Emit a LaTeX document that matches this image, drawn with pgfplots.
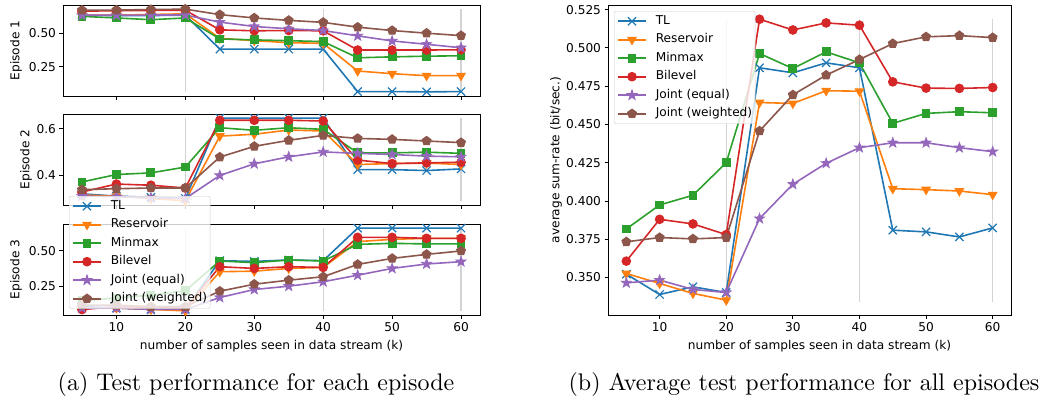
\documentclass[border=0pt]{standalone}
\usepackage{fontspec}
\usepackage{pgfplots}
\usepackage{pgfplotstable}
\pgfplotsset{compat=1.18}
\usetikzlibrary{plotmarks}
\newfontfamily\dv{DejaVu Sans}
\definecolor{tabblue}{HTML}{1F77B4}
\definecolor{taborange}{HTML}{FF7F0E}
\definecolor{tabgreen}{HTML}{2CA02C}
\definecolor{tabred}{HTML}{D62728}
\definecolor{tabpurple}{HTML}{9467BD}
\definecolor{tabbrown}{HTML}{8C564B}
\definecolor{vgray}{HTML}{D3D3D3}
\definecolor{legframe}{HTML}{CCCCCC}

\pgfdeclareplotmark{fstar}{%
  \pgfpathmoveto{\pgfpointpolar{90}{\pgfplotmarksize}}%
  \pgfpathlineto{\pgfpointpolar{126}{0.4\pgfplotmarksize}}%
  \pgfpathlineto{\pgfpointpolar{162}{\pgfplotmarksize}}%
  \pgfpathlineto{\pgfpointpolar{198}{0.4\pgfplotmarksize}}%
  \pgfpathlineto{\pgfpointpolar{234}{\pgfplotmarksize}}%
  \pgfpathlineto{\pgfpointpolar{270}{0.4\pgfplotmarksize}}%
  \pgfpathlineto{\pgfpointpolar{306}{\pgfplotmarksize}}%
  \pgfpathlineto{\pgfpointpolar{342}{0.4\pgfplotmarksize}}%
  \pgfpathlineto{\pgfpointpolar{18}{\pgfplotmarksize}}%
  \pgfpathlineto{\pgfpointpolar{54}{0.4\pgfplotmarksize}}%
  \pgfpathclose
  \pgfusepathqfillstroke
}

\pgfplotstableread{
x TL Res Min Bil Je Jw
5  0.635 0.635 0.626 0.665 0.634 0.672
10 0.632 0.635 0.614 0.668 0.634 0.673
15 0.632 0.640 0.601 0.670 0.636 0.677
20 0.635 0.645 0.614 0.672 0.636 0.680
25 0.381 0.462 0.457 0.525 0.583 0.639
30 0.381 0.444 0.450 0.518 0.550 0.614
35 0.381 0.429 0.444 0.520 0.533 0.596
40 0.381 0.424 0.437 0.518 0.520 0.581
45 0.063 0.217 0.316 0.374 0.480 0.545
50 0.063 0.197 0.323 0.374 0.442 0.520
55 0.061 0.182 0.328 0.374 0.417 0.500
60 0.063 0.182 0.331 0.376 0.391 0.482
}\epone

\pgfplotstableread{
x TL Res Min Bil Je Jw
5  0.320 0.315 0.371 0.328 0.310 0.338
10 0.310 0.310 0.403 0.362 0.308 0.342
15 0.305 0.300 0.410 0.357 0.303 0.345
20 0.300 0.290 0.435 0.345 0.300 0.345
25 0.645 0.568 0.604 0.636 0.399 0.478
30 0.645 0.576 0.593 0.636 0.449 0.524
35 0.645 0.594 0.604 0.636 0.479 0.550
40 0.645 0.590 0.597 0.633 0.500 0.571
45 0.424 0.446 0.496 0.465 0.494 0.558
50 0.424 0.450 0.496 0.450 0.489 0.554
55 0.420 0.452 0.499 0.453 0.482 0.547
60 0.427 0.446 0.494 0.456 0.479 0.540
}\eptwo

\pgfplotstableread{
x TL Res Min Bil Je Jw
5  0.110 0.100 0.150 0.089 0.100 0.120
10 0.100 0.100 0.170 0.110 0.100 0.120
15 0.090 0.090 0.190 0.105 0.090 0.110
20 0.090 0.080 0.220 0.100 0.090 0.110
25 0.430 0.353 0.428 0.388 0.173 0.217
30 0.425 0.357 0.416 0.376 0.229 0.266
35 0.435 0.376 0.435 0.388 0.252 0.294
40 0.430 0.383 0.428 0.383 0.283 0.318
45 0.657 0.563 0.544 0.593 0.329 0.404
50 0.657 0.579 0.551 0.593 0.376 0.446
55 0.657 0.586 0.547 0.586 0.407 0.474
60 0.657 0.586 0.547 0.586 0.423 0.498
}\epthree

\pgfplotstableread{
x TL Res Min Bil Je Jw
5  0.3522 0.3526 0.3817 0.3607 0.3465 0.3733
10 0.3389 0.3461 0.3974 0.3880 0.3483 0.3761
15 0.3439 0.3396 0.4037 0.3850 0.3422 0.3752
20 0.3402 0.3352 0.4250 0.3780 0.3402 0.3761
25 0.4870 0.4643 0.4963 0.5187 0.3885 0.4457
30 0.4837 0.4637 0.4865 0.5117 0.4109 0.4693
35 0.4902 0.4720 0.4974 0.5163 0.4246 0.4822
40 0.4870 0.4717 0.4902 0.5148 0.4348 0.4924
45 0.3809 0.4080 0.4507 0.4778 0.4380 0.5028
50 0.3798 0.4074 0.4572 0.4737 0.4380 0.5072
55 0.3765 0.4065 0.4583 0.4735 0.4348 0.5080
60 0.3824 0.4041 0.4576 0.4741 0.4322 0.5067
}\avg

\pgfplotsset{
  sTL/.style={color=tabblue, line width=1.6bp, mark=x, mark size=5.8bp, mark options={solid, line width=1.2bp}},
  sRes/.style={color=taborange, line width=1.6bp, mark=triangle*, mark size=4.8bp, mark options={solid, rotate=180, fill=taborange, line width=1bp}},
  sMin/.style={color=tabgreen, line width=1.6bp, mark=square*, mark size=3.9bp, mark options={solid, fill=tabgreen, line width=1bp}},
  sBil/.style={color=tabred, line width=1.6bp, mark=*, mark size=4.3bp, mark options={solid, fill=tabred, line width=1bp}},
  sJe/.style={color=tabpurple, line width=1.6bp, mark=fstar, mark size=5.2bp, mark options={solid, fill=tabpurple, line width=0.8bp}},
  sJw/.style={color=tabbrown, line width=1.6bp, mark=pentagon*, mark size=4.6bp, mark options={solid, fill=tabbrown, line width=1bp}},
  vline/.style={color=vgray, line width=1.3bp, forget plot, mark=none},
  base/.style={
    scale only axis, anchor=north west,
    xmin=2.25, xmax=62.75, xtick={10,20,30,40,50,60},
    tick pos=left, tick align=outside, major tick length=3.5bp,
    every tick/.style={black, line width=0.8bp},
    axis line style={line width=0.8bp, black},
    tick label style={font=\fontsize{12.2}{14}\selectfont\dv},
    label style={font=\fontsize{12.2}{14}\selectfont\dv},
    /pgf/number format/assume math mode=true,
    yticklabel style={/pgf/number format/fixed, /pgf/number format/fixed zerofill},
    legend cell align=left,
    legend image code/.code={\draw[opacity=1, mark repeat=2, mark phase=2] plot coordinates {(0bp,0bp) (14bp,0bp) (28bp,0bp)};},
    legend style={font=\fontsize{12.2}{14}\selectfont\dv, anchor=north west,
      draw=legframe, fill=white, fill opacity=0.8, draw opacity=1, text opacity=1,
      rounded corners=2bp, row sep=6.5bp, column sep=9bp, inner xsep=3bp, inner ysep=4bp,
      nodes={inner sep=0pt, text height=9bp, text depth=3bp}},
  },
}

\begin{document}
\begin{tikzpicture}
\useasboundingbox (0,0) rectangle (1060bp,-397bp);

% Episode 1
\begin{axis}[base, at={(63bp,-5bp)}, width=417bp, height=91bp,
  ymin=0.030, ymax=0.711, ytick={0.25,0.50}, xticklabels={},
  yticklabel style={/pgf/number format/precision=2},
  ylabel={Episode 1}, ylabel style={at={(axis description cs:-0.1127,0.5)}, anchor=center}]
\addplot[vline] coordinates {(20,0.061) (20,0.680)};
\addplot[vline] coordinates {(40,0.061) (40,0.680)};
\addplot[vline] coordinates {(60,0.061) (60,0.680)};
\addplot[sTL]  table[x=x,y=TL]  {\epone};
\addplot[sRes] table[x=x,y=Res] {\epone};
\addplot[sMin] table[x=x,y=Min] {\epone};
\addplot[sBil] table[x=x,y=Bil] {\epone};
\addplot[sJe]  table[x=x,y=Je]  {\epone};
\addplot[sJw]  table[x=x,y=Jw]  {\epone};
\end{axis}

% Episode 2
\begin{axis}[base, at={(63bp,-114bp)}, width=417bp, height=91bp,
  ymin=0.272, ymax=0.663, ytick={0.4,0.6}, xticklabels={},
  yticklabel style={/pgf/number format/precision=1},
  ylabel={Episode 2}, ylabel style={at={(axis description cs:-0.0887,0.5)}, anchor=center}]
\addplot[vline] coordinates {(20,0.290) (20,0.645)};
\addplot[vline] coordinates {(40,0.290) (40,0.645)};
\addplot[vline] coordinates {(60,0.290) (60,0.645)};
\addplot[sTL]  table[x=x,y=TL]  {\eptwo};
\addplot[sRes] table[x=x,y=Res] {\eptwo};
\addplot[sMin] table[x=x,y=Min] {\eptwo};
\addplot[sBil] table[x=x,y=Bil] {\eptwo};
\addplot[sJe]  table[x=x,y=Je]  {\eptwo};
\addplot[sJw]  table[x=x,y=Jw]  {\eptwo};
\end{axis}

% Episode 3
\begin{axis}[base, at={(63bp,-224bp)}, width=417bp, height=91bp,
  ymin=0.051, ymax=0.686, ytick={0.25,0.50},
  yticklabel style={/pgf/number format/precision=2},
  ylabel={Episode 3}, ylabel style={at={(axis description cs:-0.1127,0.5)}, anchor=center},
  xlabel={number of samples seen in data stream (k)},
  xlabel style={at={(axis description cs:0.5,-0.3407)}, anchor=center},
  legend style={at={(axis description cs:0.0144,1.3077)}}]
\addplot[vline] coordinates {(20,0.080) (20,0.657)};
\addplot[vline] coordinates {(40,0.080) (40,0.657)};
\addplot[vline] coordinates {(60,0.080) (60,0.657)};
\addplot[sTL]  table[x=x,y=TL]  {\epthree};
\addplot[sRes] table[x=x,y=Res] {\epthree};
\addplot[sMin] table[x=x,y=Min] {\epthree};
\addplot[sBil] table[x=x,y=Bil] {\epthree};
\addplot[sJe]  table[x=x,y=Je]  {\epthree};
\addplot[sJw]  table[x=x,y=Jw]  {\epthree};
\legend{TL, Reservoir, Minmax, Bilevel, Joint (equal), Joint (weighted)}
\end{axis}

% Average
\begin{axis}[base, at={(608bp,-5bp)}, width=403bp, height=310bp,
  ymin=0.3255, ymax=0.528,
  ytick={0.325,0.350,0.375,0.400,0.425,0.450,0.475,0.500,0.525},
  yticklabel style={/pgf/number format/precision=3},
  ylabel={average sum-rate (bit/sec.)}, ylabel style={at={(axis description cs:-0.129,0.5)}, anchor=center},
  xlabel={number of samples seen in data stream (k)},
  xlabel style={at={(axis description cs:0.5248,-0.1)}, anchor=center},
  legend style={at={(axis description cs:0.0149,0.9806)}}]
\addplot[vline] coordinates {(20,0.334) (20,0.519)};
\addplot[vline] coordinates {(40,0.334) (40,0.519)};
\addplot[vline] coordinates {(60,0.334) (60,0.519)};
\addplot[sTL]  table[x=x,y=TL]  {\avg};
\addplot[sRes] table[x=x,y=Res] {\avg};
\addplot[sMin] table[x=x,y=Min] {\avg};
\addplot[sBil] table[x=x,y=Bil] {\avg};
\addplot[sJe]  table[x=x,y=Je]  {\avg};
\addplot[sJw]  table[x=x,y=Jw]  {\avg};
\legend{TL, Reservoir, Minmax, Bilevel, Joint (equal), Joint (weighted)}
\end{axis}

\node[anchor=base, scale=2.41, font=\fontsize{10}{12}\selectfont\rmfamily] at (256bp,-390bp) {(a) Test performance for each episode};
\node[anchor=base, scale=2.41, font=\fontsize{10}{12}\selectfont\rmfamily] at (804bp,-390bp) {(b) Average test performance for all episodes};
\end{tikzpicture}
\end{document}
